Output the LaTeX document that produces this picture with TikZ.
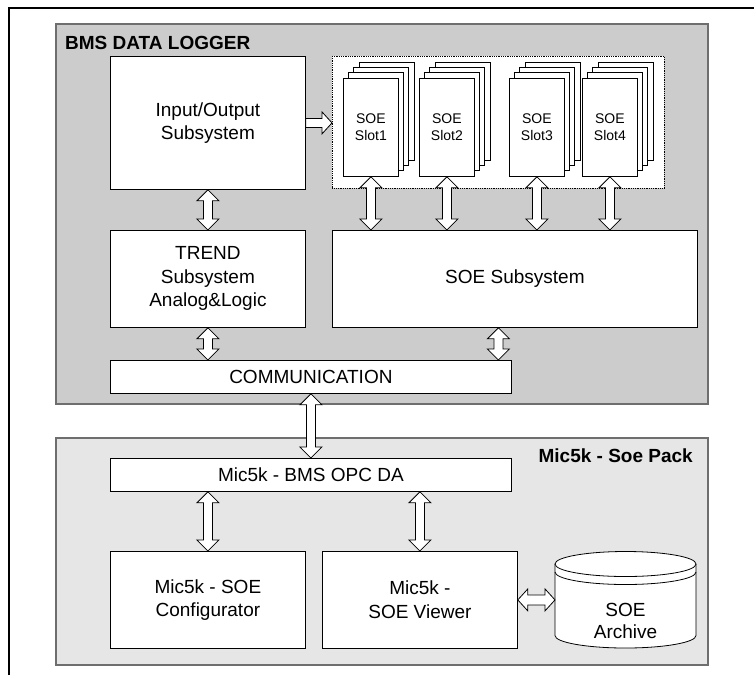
\documentclass[tikz,border=0pt]{standalone}
\usepackage{fontspec}
\setmainfont{Liberation Sans}
\usetikzlibrary{calc}
\definecolor{darkpanel}{HTML}{CCCCCC}
\definecolor{lightpanel}{HTML}{E6E6E6}
\definecolor{panelline}{HTML}{6E6E6E}
\tikzset{
  box/.style={draw=black, line width=0.8pt, fill=white, inner sep=0pt, align=center,
    font=\fontsize{19}{23.5}\selectfont},
  card/.style={draw=black, line width=0.8pt, fill=white, minimum width=55pt, minimum height=98pt,
    inner sep=0pt, align=center, font=\fontsize{14}{17}\selectfont},
  cardback/.style={draw=black, line width=0.8pt, fill=white},
  barrow/.style={draw=black, line width=0.8pt, fill=white, line join=miter},
  panel/.style={draw=panelline, line width=1.5pt, inner sep=0pt},
  paneltitle/.style={font=\bfseries\fontsize{19}{23}\selectfont, inner sep=0pt},
  dotbox/.style={draw=black, densely dotted, line width=0.8pt, fill=white, inner sep=0pt},
}
\newcommand\blkarrowv[2]{%
  \draw[barrow] let \p1=(#1), \p2=(#2) in
  (\x1,\y1) -- (\x1+11pt,\y1-11pt) -- (\x1+4.5pt,\y1-11pt) -- (\x1+4.5pt,\y2+11pt)
  -- (\x1+11pt,\y2+11pt) -- (\x1,\y2) -- (\x1-11pt,\y2+11pt) -- (\x1-4.5pt,\y2+11pt)
  -- (\x1-4.5pt,\y1-11pt) -- (\x1-11pt,\y1-11pt) -- cycle;}
\newcommand\blkarrowh[2]{%
  \draw[barrow] let \p1=(#1), \p2=(#2) in
  (\x1,\y1) -- (\x1+10pt,\y1+11pt) -- (\x1+10pt,\y1+5pt) -- (\x2-10pt,\y1+5pt)
  -- (\x2-10pt,\y1+11pt) -- (\x2,\y1) -- (\x2-10pt,\y1-11pt) -- (\x2-10pt,\y1-5pt)
  -- (\x1+10pt,\y1-5pt) -- (\x1+10pt,\y1-11pt) -- cycle;}
\newcommand\blkarrowr[2]{%
  \draw[barrow] let \p1=(#1), \p2=(#2) in
  (\x1,\y1+4.5pt) -- (\x2-10pt,\y1+4.5pt) -- (\x2-10pt,\y1+11pt) -- (\x2,\y1)
  -- (\x2-10pt,\y1-11pt) -- (\x2-10pt,\y1-4.5pt) -- (\x1,\y1-4.5pt) -- cycle;}
\begin{document}
\begin{tikzpicture}[x=1pt,y=-1pt]
\useasboundingbox (0,0) rectangle (754,675);
% outer frame lines
\draw[line width=2.5pt] (9,675) -- (9,8) -- (754,8);

% panels
\node[panel, fill=darkpanel, anchor=north west, minimum width=652pt, minimum height=380pt] (logger) at (55,23) {};
\node[paneltitle, anchor=west] (loggertitle) at (65,43) {BMS DATA LOGGER};
\node[panel, fill=lightpanel, anchor=north west, minimum width=652pt, minimum height=227pt] (pack) at (55,437) {};
\node[paneltitle, anchor=east] (packtitle) at (693,456) {Mic5k - Soe Pack};

% logger boxes
\node[box, anchor=north west, minimum width=195pt, minimum height=133pt] (io) at (110,56) {Input/Output\\Subsystem};
\node[dotbox, anchor=north west, minimum width=332pt, minimum height=132pt] (slots) at (332,56) {};
\foreach \n/\xx in {1/343,2/419,3/509,4/582} {
  \foreach \k in {3,2,1}
    \draw[cardback] (\xx+5.3*\k, 78-5.3*\k) rectangle ++(55,98);
  \node[card, anchor=north west] (s\n) at (\xx,78) {SOE\\Slot\n};
}
\node[box, anchor=north west, minimum width=195pt, minimum height=97pt] (trend) at (110,230) {TREND\\Subsystem\\Analog\&Logic};
\node[box, anchor=north west, minimum width=365pt, minimum height=97pt] (soe) at (332,230) {SOE Subsystem};
\node[box, anchor=north west, minimum width=401pt, minimum height=33pt] (comm) at (110,360) {COMMUNICATION};

% pack boxes
\node[box, anchor=north west, minimum width=401pt, minimum height=33pt] (opc) at (110,458) {Mic5k - BMS OPC DA};
\node[box, anchor=north west, minimum width=195pt, minimum height=97pt] (config) at (110,551) {Mic5k - SOE\\Configurator};
\node[box, anchor=north west, minimum width=195pt, minimum height=97pt] (viewer) at (322,551) {Mic5k -\\SOE Viewer};

% archive cylinder
\draw[line width=0.8pt, fill=white] (555,564) -- (555,635.5)
  arc[start angle=180, end angle=360, x radius=70.5pt, y radius=12.5pt] -- (696,564)
  arc[start angle=0, end angle=180, x radius=70.5pt, y radius=12.5pt] -- cycle;
\draw[line width=0.8pt] (555,564) arc[start angle=180, end angle=360, x radius=70.5pt, y radius=12.5pt];
\draw[line width=0.8pt] (555,572) arc[start angle=180, end angle=360, x radius=70.5pt, y radius=12.5pt];
\node[inner sep=0pt, minimum width=141pt, minimum height=97pt, anchor=north west] (arch) at (555,551) {};
\node[align=center, inner sep=0pt, font=\fontsize{19}{22}\selectfont] (archtext) at (625.5,621) {SOE\\Archive};

% connectors
\blkarrowr{io.east}{slots.west}
\blkarrowv{io.south}{io.south |- trend.north}
\blkarrowv{s1.south}{s1.south |- soe.north}
\blkarrowv{s2.south}{s2.south |- soe.north}
\blkarrowv{s3.south}{s3.south |- soe.north}
\blkarrowv{s4.south}{s4.south |- soe.north}
\blkarrowv{trend.south}{trend.south |- comm.north}
\path (soe.south) ++(-16.5,0) coordinate (soeport);
\blkarrowv{soeport}{soeport |- comm.north}
\blkarrowv{comm.south}{comm.south |- opc.north}
\blkarrowv{opc.south -| config.north}{config.north}
\blkarrowv{opc.south -| viewer.north}{viewer.north}
\blkarrowh{viewer.east}{viewer.east -| arch.west}
\end{tikzpicture}
\end{document}
